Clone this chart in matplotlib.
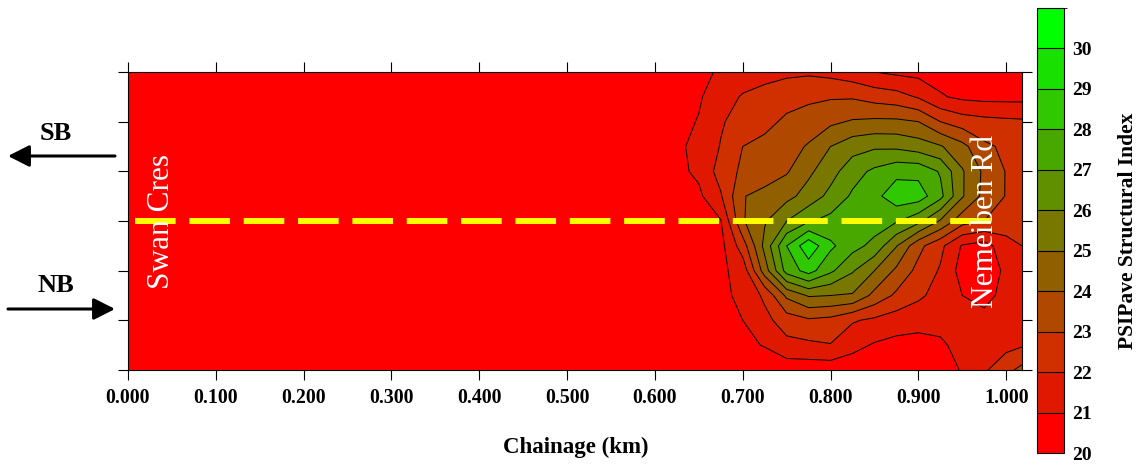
"""PSIPave structural index contour map along the carriageway."""

import matplotlib

matplotlib.use("Agg")

import matplotlib.pyplot as plt
import numpy as np
from matplotlib.colors import BoundaryNorm, ListedColormap
from matplotlib.ticker import FormatStrFormatter

# grid of survey nodes: chainage (km) across, transverse position (0 = NB edge) up
chainage_km = [0.0, 0.60, 0.65, 0.675, 0.70, 0.725, 0.75, 0.775, 0.80, 0.825,
               0.85, 0.875, 0.90, 0.925, 0.95, 0.975, 1.00, 1.018]
offset = [0.0, 0.5, 1.0, 1.5, 2.0, 2.5, 3.0, 3.5, 4.0, 4.5, 5.0, 5.5, 6.0]

# structural index, one row per offset (bottom row first)
psi_rows = [
    [20.2, 20.3, 20.3, 20.3, 20.35, 20.4, 20.4, 20.4, 20.4, 20.4, 20.4, 20.4, 20.5, 20.7, 21.05, 21.85, 22.7, 23.3],
    [20.2, 20.3, 20.5, 20.6, 20.8, 21.05, 21.7, 21.8, 21.95, 21.3, 20.9, 20.7, 20.7, 20.9, 21.2, 21.4, 21.7, 21.9],
    [20.2, 20.3, 20.6, 20.8, 21.0, 21.7, 22.5, 22.85, 22.7, 22.1, 21.8, 21.5, 21.3, 21.2, 21.2, 21.3, 21.4, 21.4],
    [20.2, 20.3, 20.6, 20.8, 21.2, 22.2, 24.2, 25.1, 25.0, 24.9, 23.7, 22.8, 22.2, 21.6, 21.0, 20.7, 21.3, 21.5],
    [20.2, 20.3, 20.5, 20.8, 21.4, 24.5, 27.4, 28.4, 27.2, 26.1, 25.0, 23.8, 22.7, 21.9, 20.6, 20.4, 21.2, 21.8],
    [20.2, 20.3, 20.5, 20.7, 22.5, 25.3, 28.0, 29.7, 28.2, 27.35, 26.7, 25.05, 23.3, 22.25, 20.9, 20.6, 21.6, 22.0],
    [20.2, 20.3, 20.5, 20.95, 23.9, 24.9, 26.0, 26.9, 27.3, 27.6, 27.5, 27.1, 26.3, 24.9, 23.4, 23.0, 22.6, 22.5],
    [20.2, 20.3, 20.8, 21.9, 23.95, 24.3, 24.7, 25.4, 26.3, 27.15, 27.7, 28.6, 28.5, 27.3, 25.1, 23.7, 22.95, 22.85],
    [20.2, 20.3, 21.2, 22.4, 23.2, 23.5, 23.9, 24.8, 25.6, 26.6, 27.2, 27.7, 27.7, 26.9, 25.1, 23.8, 22.95, 22.8],
    [20.2, 20.3, 21.3, 22.05, 23.0, 23.3, 23.6, 24.1, 25.0, 25.6, 25.85, 25.8, 25.5, 25.1, 24.3, 23.2, 22.8, 22.7],
    [20.2, 20.4, 21.05, 21.9, 22.4, 22.7, 23.2, 23.45, 23.8, 24.1, 24.2, 24.2, 24.0, 23.0, 22.5, 22.3, 22.2, 22.15],
    [20.2, 20.4, 20.9, 21.5, 22.1, 22.4, 22.6, 22.8, 22.9, 22.9, 22.6, 22.4, 21.9, 21.1, 20.8, 20.7, 20.7, 20.7],
    [20.2, 20.4, 20.8, 21.1, 21.4, 21.6, 21.8, 21.85, 21.7, 21.4, 21.0, 20.8, 20.7, 20.6, 20.5, 20.5, 20.5, 20.5],
]

band_levels = list(range(20, 32))
band_colors = ["#FF0000", "#E01800", "#D03000", "#B04800", "#906000", "#787800",
               "#609000", "#48A800", "#30C800", "#18E000", "#00FF00"]
colorbar_ticks = list(range(20, 31))
xtick_km = [0.0, 0.1, 0.2, 0.3, 0.4, 0.5, 0.6, 0.7, 0.8, 0.9, 1.0]

plt.rcParams["font.family"] = ["Liberation Serif", "DejaVu Serif"]
plt.rcParams["font.weight"] = "bold"

W, H = 1146, 465


def fig_box(left, top, right, bottom):
    """Pixel box (top-left origin) to figure fractions."""
    return [left / W, (H - bottom) / H, (right - left) / W, (bottom - top) / H]


fig = plt.figure(figsize=(W / 100, H / 100), dpi=100)
ax = fig.add_axes(fig_box(128, 72, 1022, 370))

grid_x, grid_y = np.meshgrid(chainage_km, offset)
psi = np.array(psi_rows)

cmap = ListedColormap(band_colors)
norm = BoundaryNorm(band_levels, cmap.N)
filled = ax.contourf(grid_x, grid_y, psi, levels=band_levels, cmap=cmap, norm=norm)
ax.contour(grid_x, grid_y, psi, levels=band_levels[1:-1], colors="black", linewidths=0.7)

# lane divide
ax.plot([0.008, 0.998], [3.0, 3.0], color="#FFFF00", lw=4.3,
        dashes=(6.8, 2.3), dash_capstyle="butt", zorder=3)

street_style = dict(rotation=90, color="white", fontsize=22.5, fontweight="normal",
                    ha="center", va="center", zorder=4)
ax.text(0.0376, 3.0, "Swan Cres", **street_style)
ax.text(0.977, 3.0, "Nemeiben Rd", **street_style)

ax.set_xlim(0, 1.018)
ax.set_ylim(0, 6)
ax.set_xticks(xtick_km)
ax.xaxis.set_major_formatter(FormatStrFormatter("%.3f"))
ax.set_yticks(range(7))
ax.set_yticklabels([])
ax.tick_params(direction="out", length=7, width=0.8, top=True, right=True,
               labelsize=14.3, pad=6)
for spine in ax.spines.values():
    spine.set_linewidth(0.8)

fig.text(576 / W, (H - 447) / H, "Chainage (km)", ha="center", va="center", fontsize=16.5)

# travel direction arrows
arrow_props = dict(arrowstyle="-|>,head_length=0.65,head_width=0.33", lw=2.2,
                   color="black", mutation_scale=20, shrinkA=0, shrinkB=0)
fig.add_artist(plt.Annotation("", xy=(8 / W, (H - 156) / H), xytext=(115 / W, (H - 156) / H),
                              xycoords="figure fraction", arrowprops=arrow_props))
fig.add_artist(plt.Annotation("", xy=(115 / W, (H - 309) / H), xytext=(8 / W, (H - 309) / H),
                              xycoords="figure fraction", arrowprops=arrow_props))
fig.text(56 / W, (H - 133) / H, "SB", ha="center", va="center", fontsize=19)
fig.text(56 / W, (H - 286) / H, "NB", ha="center", va="center", fontsize=19)

cax = fig.add_axes(fig_box(1037, 8, 1064, 453))
cbar = fig.colorbar(filled, cax=cax, ticks=colorbar_ticks, drawedges=True)
cbar.outline.set_linewidth(0.8)
cbar.dividers.set_color("black")
cbar.dividers.set_linewidth(0.8)
cax.tick_params(length=0, pad=6, labelsize=14)
fig.text(1128 / W, (H - 231) / H, "PSIPave Structural Index", rotation=90,
         ha="center", va="center", fontsize=15.5)

fig.savefig("out.png", dpi=100)
